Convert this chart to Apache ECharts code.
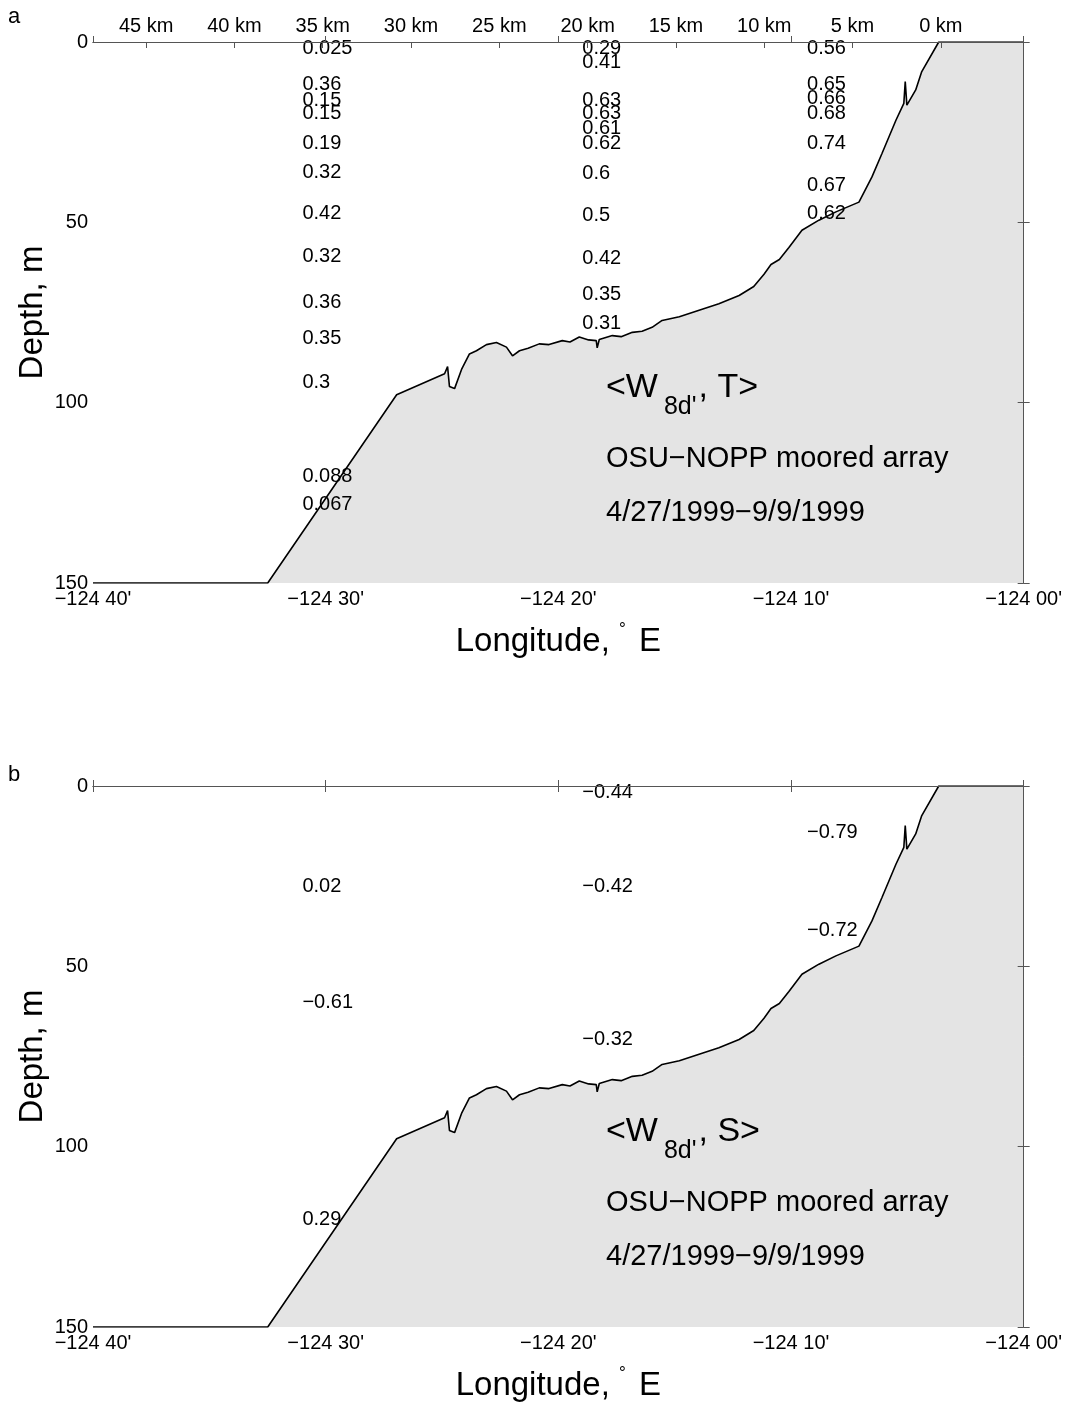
<!DOCTYPE html>
<html><head><meta charset="utf-8">
<script src="https://cdn.jsdelivr.net/npm/echarts@6/dist/echarts.min.js"></script>
<style>html,body{margin:0;padding:0;background:#fff}#c{width:1065px;height:1405px}</style>
</head><body><div id="c"></div>
<script>
// Longitude expressed in minutes relative to 124°00'W (negative = further west)
const lonTicks = [-40, -30, -20, -10, 0];
const depthTicks = [0, 50, 100, 150];
const kmTicks = [0, 5, 10, 15, 20, 25, 30, 35, 40, 45];
const coastLon = -3.56;      // 0 km reference (minutes)
const kmPerMinute = 1.3175;  // km per minute of longitude at ~44.65N

// Bottom profile (bathymetry)
const bathyLon = [-40, -32.49, -26.95, -24.89, -24.76, -24.68, -24.46, -24.16, -23.82, -23.52, -23.09, -22.66, -22.23, -21.97, -21.67, -21.3, -20.82, -20.4, -19.83, -19.5, -19.10, -18.7, -18.37, -18.33, -18.24, -17.68, -17.3, -16.82, -16.4, -15.97, -15.54, -14.8, -13.95, -13.1, -12.23, -11.6, -11.16, -10.86, -10.5, -10.09, -9.53, -8.80, -8.07, -7.08, -6.52, -6.09, -5.49, -5.15, -5.09, -5.02, -4.64, -4.38, -3.65, 0];
const bathyDepth = [150, 150, 97.8, 92.0, 90.0, 95.5, 96.1, 90.8, 86.5, 85.6, 83.9, 83.3, 84.6, 87.0, 85.6, 84.9, 83.7, 83.9, 82.8, 83.2, 81.8, 82.6, 82.8, 84.8, 82.5, 81.4, 81.7, 80.5, 80.2, 79.1, 77.2, 76.2, 74.4, 72.6, 70.3, 67.8, 64.4, 61.7, 60.3, 57.0, 52.2, 49.4, 47.1, 44.4, 37.4, 30.9, 21.7, 17.0, 11.0, 17.5, 13.3, 8.2, 0, 0];

// Mooring longitudes (minutes)
const moorLon = [-31.0, -18.97, -9.31];

// Panel a: <W8d', T>
const tDepth1 = [1.7, 11.9, 16.1, 19.7, 28.1, 36.1, 47.5, 59.5, 72.2, 82.2, 94.4, 120.6, 128.3];
const tValue1 = [0.025, 0.36, 0.15, 0.15, 0.19, 0.32, 0.42, 0.32, 0.36, 0.35, 0.3, 0.088, 0.067];
const tDepth2 = [1.7, 5.8, 16.1, 19.7, 23.9, 28.0, 36.4, 48.1, 60.0, 70.0, 78.0];
const tValue2 = [0.29, 0.41, 0.63, 0.63, 0.61, 0.62, 0.6, 0.5, 0.42, 0.35, 0.31];
const tDepth3 = [1.7, 11.9, 15.6, 19.7, 28.0, 39.7, 47.5];
const tValue3 = [0.56, 0.65, 0.66, 0.68, 0.74, 0.67, 0.62];

// Panel b: <W8d', S>
const sDepth1 = [27.8, 60.0, 120.3];
const sValue1 = [0.02, -0.61, 0.29];
const sDepth2 = [1.9, 27.8, 70.3];
const sValue2 = [-0.44, -0.42, -0.32];
const sDepth3 = [12.8, 40.0];
const sValue3 = [-0.79, -0.72];

const FONT = "'Liberation Sans', Arial, Helvetica, sans-serif";
const AX = '#555';
const TXT = '#000';
const fmt = v => String(v).replace('-', '\u2212');
const lonFmt = v => '\u2212124 ' + String(Math.round(Math.abs(v))).padStart(2, '0') + "'";
const kmLon = kmTicks.map(k => coastLon - k / kmPerMinute);
const bathy = bathyLon.map((x, i) => [x, bathyDepth[i]]);

function pts(lon, depths, vals) { return depths.map((d, i) => [lon, d, vals[i]]); }
const tPts = [].concat(pts(moorLon[0], tDepth1, tValue1), pts(moorLon[1], tDepth2, tValue2), pts(moorLon[2], tDepth3, tValue3));
const sPts = [].concat(pts(moorLon[0], sDepth1, sValue1), pts(moorLon[1], sDepth2, sValue2), pts(moorLon[2], sDepth3, sValue3));

const grids = [
  { left: 93, top: 42, width: 932, height: 541 },
  { left: 93, top: 786, width: 932, height: 541 }
];

function bottomX(g) {
  return {
    gridIndex: g, type: 'value', position: 'bottom', min: -40, max: 0, interval: 10, z: 10,
    axisLine: { show: true, lineStyle: { color: AX, width: 1 } },
    axisTick: { show: true, inside: true, length: 6, lineStyle: { color: AX } },
    axisLabel: { formatter: lonFmt, fontSize: 20, color: TXT, fontFamily: FONT, margin: 6 },
    splitLine: { show: false },
    name: 'Longitude, {d|\u00b0} E', nameLocation: 'middle', nameGap: 38,
    nameTextStyle: { fontSize: 33, color: TXT, fontFamily: FONT,
      rich: { d: { fontSize: 17, fontFamily: FONT, color: TXT, padding: [0, 4, 24, 0] } } }
  };
}
function topX(g, km) {
  const a = {
    gridIndex: g, type: 'value', position: 'top', min: -40, max: 0, z: 10,
    axisLine: { show: true, lineStyle: { color: AX, width: 1 } },
    splitLine: { show: false }
  };
  if (km) {
    a.axisTick = { show: true, inside: true, length: 6, customValues: kmLon, lineStyle: { color: AX } };
    a.axisLabel = { show: true, customValues: kmLon, fontSize: 20, color: TXT, fontFamily: FONT, margin: 6,
      formatter: v => Math.round((coastLon - v) * kmPerMinute) + ' km' };
  } else {
    a.interval = 10;
    a.axisTick = { show: true, inside: true, length: 6, lineStyle: { color: AX } };
    a.axisLabel = { show: false };
  }
  return a;
}
function leftY(g) {
  return {
    gridIndex: g, type: 'value', inverse: true, min: 0, max: 150, interval: 50, z: 10,
    axisLine: { show: true, lineStyle: { color: AX, width: 1 } },
    axisTick: { show: true, inside: true, length: 6, lineStyle: { color: AX } },
    axisLabel: { fontSize: 20, color: TXT, fontFamily: FONT, margin: 5 },
    splitLine: { show: false },
    name: 'Depth, m', nameLocation: 'middle', nameGap: 44, nameMoveOverlap: false,
    nameTextStyle: { fontSize: 33, color: TXT, fontFamily: FONT }
  };
}
function rightY(g) {
  return {
    gridIndex: g, type: 'value', inverse: true, min: 0, max: 150, interval: 50, position: 'right', z: 10,
    axisLine: { show: true, lineStyle: { color: AX, width: 1 } },
    axisTick: { show: true, inside: true, length: 6, lineStyle: { color: AX } },
    axisLabel: { show: false }, splitLine: { show: false }
  };
}
function bathySeries(g) {
  return {
    type: 'line', xAxisIndex: g * 2, yAxisIndex: g * 2, data: bathy, symbol: 'none',
    lineStyle: { color: '#000', width: 1.6 }, areaStyle: { color: '#e4e4e4', opacity: 1, origin: 'end' },
    silent: true, z: 2
  };
}
function labelSeries(g, data) {
  return {
    type: 'scatter', xAxisIndex: g * 2, yAxisIndex: g * 2, data: data, symbol: 'circle', symbolSize: 0.01,
    itemStyle: { color: '#000', opacity: 1 }, silent: true, z: 5,
    label: { show: true, position: 'right', distance: 0, align: 'left', verticalAlign: 'middle',
      fontSize: 20, color: TXT, opacity: 1, fontFamily: FONT, formatter: p => fmt(p.data[2]) }
  };
}
function annot(topOff, letter) {
  return [
    { type: 'text', z: 100, left: 606, top: 371 + topOff, style: {
      text: '{b|<W}{s|8d\'}{b|, ' + letter + '>}', fontFamily: FONT, fill: TXT,
      rich: { b: { fontSize: 34, fontFamily: FONT, fill: TXT, lineHeight: 38, verticalAlign: 'top' },
              s: { fontSize: 25, fontFamily: FONT, fill: TXT, lineHeight: 25, verticalAlign: 'top', padding: [24, 2, 0, 6] } } } },
    { type: 'text', z: 100, left: 606, top: 444 + topOff, style: { text: 'OSU\u2212NOPP moored array', fontSize: 29, fontFamily: FONT, fill: TXT } },
    { type: 'text', z: 100, left: 606, top: 498 + topOff, style: { text: '4/27/1999\u22129/9/1999', fontSize: 29, fontFamily: FONT, fill: TXT } }
  ];
}

const option = {
  animation: false,
  backgroundColor: '#fff',
  textStyle: { fontFamily: FONT },
  grid: grids,
  xAxis: [bottomX(0), topX(0, true), bottomX(1), topX(1, false)],
  yAxis: [leftY(0), rightY(0), leftY(1), rightY(1)],
  series: [bathySeries(0), labelSeries(0, tPts), bathySeries(1), labelSeries(1, sPts)],
  graphic: [
    { type: 'text', z: 100, left: 8, top: 6, style: { text: 'a', fontSize: 22, fontFamily: FONT, fill: TXT } },
    { type: 'text', z: 100, left: 8, top: 764, style: { text: 'b', fontSize: 22, fontFamily: FONT, fill: TXT } }
  ].concat(annot(0, 'T'), annot(744, 'S'))
};
const chart = echarts.init(document.getElementById('c'), null, { renderer: 'canvas' });
chart.setOption(option);
</script></body></html>
